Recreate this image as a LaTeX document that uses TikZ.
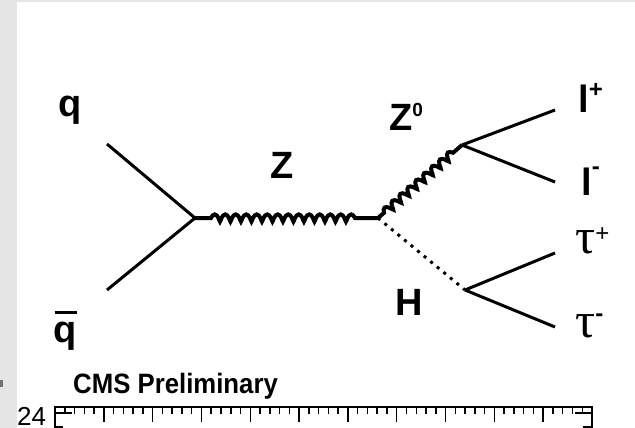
\documentclass[tikz,border=0pt]{standalone}
\usepackage{graphicx}
\usepackage{fontspec}
\setmainfont{Liberation Sans}
\newfontfamily\serifgr{Liberation Serif}
\usetikzlibrary{decorations.pathmorphing}
\begin{document}
\begin{tikzpicture}[x=1pt,y=-1pt,
  fermion/.style={line width=3pt},
  boson/.style={line width=4pt, decorate,
    decoration={coil,aspect=0.3,segment length=10.5pt,amplitude=3.6pt,
      pre length=16pt,post length=16pt}},
  bosonb/.style={line width=4pt, decorate,
    decoration={coil,aspect=0.3,segment length=10.5pt,amplitude=3.6pt,
      pre length=8pt,post length=2pt}},
  scalar/.style={line width=3pt, dash pattern=on 3pt off 5.5pt},
  lab/.style={inner sep=0pt, anchor=base west, font=\fontsize{38}{40}\selectfont\bfseries},
  taulab/.style={inner sep=0pt, anchor=base west, font=\fontsize{50}{52}\selectfont\serifgr},
  axlab/.style={inner sep=0pt, anchor=base west, font=\fontsize{26}{28}\selectfont},
  frameline/.style={line width=2pt},
  tickline/.style={line width=1.5pt}]
\useasboundingbox (0,0) rectangle (635,428);
\fill[black!10] (0,0) rectangle (635,428);
\fill[white] (17,2) rectangle (635,428);
\fill[black!55] (0,380) rectangle (3,387);

% vertices and end points
\coordinate (qa) at (107,144);
\coordinate (qb) at (107,290);
\coordinate (v1) at (195,218);
\coordinate (v2) at (378,218);
\coordinate (v3) at (462,145);
\coordinate (v4) at (465,290);
\coordinate (lp) at (555,110);
\coordinate (lm) at (555,182);
\coordinate (tp) at (555,253);
\coordinate (tm) at (555,327);

% propagators
\draw[fermion] (qa) -- (v1);
\draw[fermion] (qb) -- (v1);
\draw[fermion] (v1) -- (v2);
\draw[fermion] (v3) -- (lp);
\draw[fermion] (v3) -- (lm);
\draw[fermion] (v4) -- (tp);
\draw[fermion] (v4) -- (tm);
\draw[scalar] (v2) -- (v4);
\fill[white] (208,210) rectangle (364,226);
\draw[boson] (v1) -- (v2);
\draw[bosonb] (v2) -- (v3);

% labels
\node[lab] (lq) at (58,117) {q};
\node[lab] (lqb) at (53,342) {\rlap{\hspace{0.04em}\rule[0.74em]{0.58em}{0.075em}}q};
\node[lab] (lz) at (270,178) {Z};
\node[lab] (lz0) at (389,130) {Z\raisebox{13.5pt}{\fontsize{19}{20}\selectfont 0}};
\node[lab] (llp) at (578,113) {l\raisebox{16pt}{\fontsize{24}{24}\selectfont +}};
\node[lab] (llm) at (581,195) {l\raisebox{21pt}{\fontsize{24}{24}\selectfont -}};
\node[taulab] (ltp) at (575,253) {τ\raisebox{12pt}{\fontsize{24}{24}\selectfont\normalfont +}};
\node[taulab] (ltm) at (575,337) {τ\raisebox{16pt}{\fontsize{24}{24}\selectfont\normalfont\bfseries -}};
\node[lab] (lh) at (395,315) {H};

\node[inner sep=0pt, anchor=base west, font=\fontsize{28}{30}\selectfont\bfseries] (cms) at (73,393)
  {\scalebox{0.92}[1]{CMS Preliminary}};
\node[axlab] (y24) at (17,425) {24};

% ruler frame
\draw[frameline] (55,428) -- (55,407) -- (592,407) -- (592,428);
\foreach \k in {1,...,10} \draw[tickline] (55+48.82*\k,407) -- ++(0,15);
\foreach \i in {1,...,54} {
  \pgfmathparse{int(mod(\i,5))}
  \ifnum\pgfmathresult>0 \draw[tickline] (55+9.764*\i,407) -- ++(0,7);\fi
}
\draw[tickline] (55,413) -- (72,413);
\draw[tickline] (55,427) -- (63,427);
\draw[tickline] (592,413) -- (575,413);
\draw[tickline] (592,427) -- (583,427);
\end{tikzpicture}
\end{document}
